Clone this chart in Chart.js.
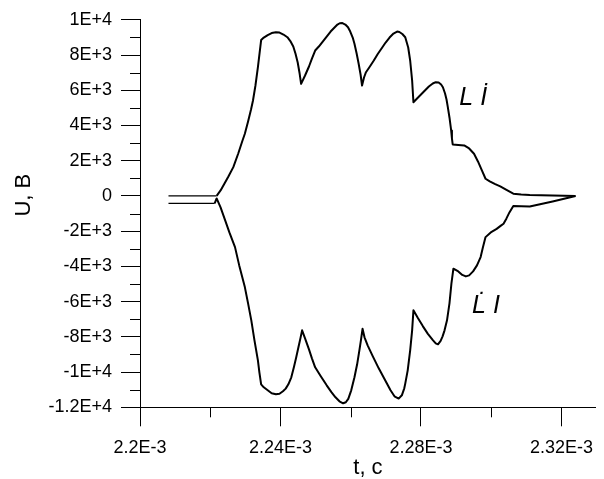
<!DOCTYPE html>
<html>
<head>
<meta charset="utf-8">
<script src="https://cdn.jsdelivr.net/npm/chart.js@4.4.1/dist/chart.umd.min.js"></script>
<style>
html,body{margin:0;padding:0;background:#fff;}
canvas{display:block;}
</style>
</head>
<body>
<canvas id="c" width="604" height="479"></canvas>
<script>
// Upper curve: L·di/dt  (t in seconds, U in volts)
const tUpper = [2.20811e-3, 2.22182e-3, 2.22294e-3, 2.22406e-3, 2.22517e-3, 2.22657e-3, 2.22797e-3, 2.22909e-3, 2.22985e-3, 2.23077e-3,
  2.23161e-3, 2.23217e-3, 2.23287e-3, 2.23357e-3, 2.23413e-3, 2.23449e-3, 2.23524e-3, 2.23636e-3, 2.23748e-3, 2.23869e-3,
  2.23972e-3, 2.24084e-3, 2.24196e-3, 2.24280e-3, 2.24364e-3, 2.24428e-3, 2.24490e-3, 2.24545e-3, 2.24587e-3, 2.24699e-3,
  2.24811e-3, 2.24895e-3, 2.24987e-3, 2.25091e-3, 2.25203e-3, 2.25315e-3, 2.25427e-3, 2.25538e-3, 2.25622e-3, 2.25687e-3,
  2.25762e-3, 2.25846e-3, 2.25922e-3, 2.25986e-3, 2.26056e-3, 2.26106e-3, 2.26168e-3, 2.26224e-3, 2.26280e-3, 2.26322e-3,
  2.26378e-3, 2.26434e-3, 2.26545e-3, 2.26657e-3, 2.26769e-3, 2.26901e-3, 2.26993e-3, 2.27105e-3, 2.27217e-3, 2.27320e-3,
  2.27385e-3, 2.27469e-3, 2.27552e-3, 2.27636e-3, 2.27692e-3, 2.27748e-3, 2.27785e-3, 2.27888e-3, 2.28000e-3, 2.28112e-3,
  2.28224e-3, 2.28336e-3, 2.28420e-3, 2.28503e-3, 2.28573e-3, 2.28624e-3, 2.28685e-3, 2.28727e-3, 2.28764e-3, 2.28811e-3,
  2.28859e-3, 2.28881e-3, 2.28903e-3, 2.29063e-3, 2.29231e-3, 2.29371e-3, 2.29510e-3, 2.29622e-3, 2.29734e-3, 2.29838e-3,
  2.29958e-3, 2.30098e-3, 2.30257e-3, 2.30434e-3, 2.30629e-3, 2.30853e-3, 2.31097e-3, 2.31748e-3, 2.32400e-3];
const uUpper = [0, 0, 312, 709, 1106, 1634, 2411, 3092, 3529, 4227,
  4908, 5418, 6270, 7308, 8255, 8851, 8993, 9135, 9248, 9294,
  9277, 9163, 9010, 8794, 8482, 8068, 7575, 6950, 6366, 6837,
  7348, 7801, 8255, 8482, 8766, 9050, 9333, 9560, 9731, 9804,
  9816, 9731, 9577, 9333, 8993, 8636, 8085, 7518, 6894, 6270,
  6723, 7024, 7348, 7688, 8057, 8443, 8709, 8993, 9220, 9333,
  9305, 9192, 9010, 8426, 7688, 6553, 5322, 5532, 5759, 5986,
  6213, 6383, 6457, 6440, 6326, 6173, 5816, 5475, 5038, 4454,
  3716, 3262, 2922, 2894, 2865, 2695, 2394, 1957, 1447, 976,
  823, 681, 539, 340, 125, 85, 57, 28, 0];
// Lower curve: dL/dt·i
const tLower = [2.20811e-3, 2.22126e-3, 2.22182e-3, 2.22294e-3, 2.22425e-3, 2.22545e-3, 2.22705e-3, 2.22825e-3, 2.22985e-3, 2.23077e-3,
  2.23169e-3, 2.23259e-3, 2.23357e-3, 2.23399e-3, 2.23449e-3, 2.23524e-3, 2.23636e-3, 2.23748e-3, 2.23869e-3, 2.23972e-3,
  2.24070e-3, 2.24148e-3, 2.24224e-3, 2.24308e-3, 2.24383e-3, 2.24448e-3, 2.24517e-3, 2.24573e-3, 2.24615e-3, 2.24699e-3,
  2.24811e-3, 2.24895e-3, 2.24987e-3, 2.25147e-3, 2.25315e-3, 2.25455e-3, 2.25566e-3, 2.25678e-3, 2.25782e-3, 2.25860e-3,
  2.25930e-3, 2.26014e-3, 2.26106e-3, 2.26182e-3, 2.26246e-3, 2.26294e-3, 2.26336e-3, 2.26392e-3, 2.26481e-3, 2.26629e-3,
  2.26797e-3, 2.26965e-3, 2.27133e-3, 2.27245e-3, 2.27365e-3, 2.27455e-3, 2.27524e-3, 2.27552e-3, 2.27622e-3, 2.27692e-3,
  2.27748e-3, 2.27785e-3, 2.27916e-3, 2.28056e-3, 2.28196e-3, 2.28344e-3, 2.28420e-3, 2.28484e-3, 2.28559e-3, 2.28615e-3,
  2.28671e-3, 2.28741e-3, 2.28811e-3, 2.28867e-3, 2.28923e-3, 2.29063e-3, 2.29175e-3, 2.29278e-3, 2.29371e-3, 2.29483e-3,
  2.29594e-3, 2.29698e-3, 2.29762e-3, 2.29838e-3, 2.29986e-3, 2.30154e-3, 2.30266e-3, 2.30350e-3, 2.30434e-3, 2.30518e-3,
  2.30629e-3, 2.30853e-3, 2.31097e-3, 2.31748e-3, 2.32400e-3];
const uLower = [-426, -426, -142, -652, -1390, -2071, -2905, -3943, -5175, -6099,
  -7064, -8199, -9333, -10014, -10695, -10865, -11036, -11206, -11262, -11234,
  -11092, -10939, -10695, -10298, -9714, -9163, -8539, -8028, -7631, -8085,
  -8709, -9220, -9731, -10241, -10752, -11149, -11433, -11660, -11773, -11716,
  -11518, -11036, -10298, -9560, -8766, -8142, -7546, -8028, -8482, -9106,
  -9787, -10411, -11036, -11376, -11506, -11319, -10922, -10655, -9901, -8766,
  -7631, -6497, -6950, -7404, -7830, -8199, -8369, -8426, -8227, -7972,
  -7631, -7064, -6099, -4965, -4131, -4284, -4482, -4567, -4511, -4284,
  -3943, -3472, -2922, -2338, -2071, -1872, -1702, -1577, -1277, -936,
  -567, -584, -596, -312, 0];

const xTickValues = [2.2e-3, 2.24e-3, 2.28e-3, 2.32e-3];
const xTickLabels = ["2.2E-3", "2.24E-3", "2.28E-3", "2.32E-3"];
const xMinorTicks = [2.22e-3, 2.26e-3, 2.30e-3];
const yTickValues = [-12000, -10000, -8000, -6000, -4000, -2000, 0, 2000, 4000, 6000, 8000, 10000];
const yTickLabels = ["-1.2E+4", "-1E+4", "-8E+3", "-6E+3", "-4E+3", "-2E+3", "0", "2E+3", "4E+3", "6E+3", "8E+3", "1E+4"];
const yMinorTicks = [-11000, -9000, -7000, -5000, -3000, -1000, 1000, 3000, 5000, 7000, 9000];
const curveLabels = ["L İ", "L\u0307 I"];
const xTitle = "t, c";
const yTitle = "U, B";

const FONT = "'Liberation Sans', Arial, sans-serif";
const pts = (ts, us) => ts.map((t, i) => ({x: t, y: us[i]}));

const extras = {
  id: 'extras',
  afterDraw(chart) {
    const ctx = chart.ctx;
    const xs = chart.scales.x, ys = chart.scales.y;
    const ca = chart.chartArea;
    ctx.save();
    ctx.strokeStyle = '#000';
    ctx.lineWidth = 1;
    ctx.beginPath();
    yMinorTicks.forEach(v => {
      const py = Math.round(ys.getPixelForValue(v)) + 0.5;
      ctx.moveTo(ca.left - 10, py); ctx.lineTo(ca.left, py);
    });
    xMinorTicks.forEach(v => {
      const px = Math.round(xs.getPixelForValue(v)) + 0.5;
      ctx.moveTo(px, ca.bottom); ctx.lineTo(px, ca.bottom + 10);
    });
    ctx.stroke();
    ctx.fillStyle = '#000';
    ctx.font = "italic 25px " + FONT;
    ctx.textBaseline = 'alphabetic';
    ctx.textAlign = 'left';
    ctx.fillText(curveLabels[0], xs.getPixelForValue(2.29091e-3), ys.getPixelForValue(5135));
    ctx.fillText(curveLabels[1], xs.getPixelForValue(2.29455e-3), ys.getPixelForValue(-6667));
    ctx.restore();
  }
};

new Chart(document.getElementById('c'), {
  type: 'line',
  data: {
    datasets: [
      {data: pts(tUpper, uUpper), borderColor: '#000', borderWidth: 2, pointRadius: 0, tension: 0, fill: false,
       borderJoinStyle: 'round', segment: {borderWidth: c => c.p0DataIndex === 0 ? 1.3 : 2}},
      {data: pts(tLower, uLower), borderColor: '#000', borderWidth: 2, pointRadius: 0, tension: 0, fill: false,
       borderJoinStyle: 'round', segment: {borderWidth: c => c.p0DataIndex === 0 ? 1.3 : 2}}
    ]
  },
  options: {
    responsive: false,
    animation: false,
    events: [],
    layout: {padding: {top: 19.5, right: 0, bottom: 0, left: 0}},
    plugins: {legend: {display: false}, tooltip: {enabled: false}},
    scales: {
      x: {
        type: 'linear',
        min: 2.2e-3,
        max: 2.3298e-3,
        afterBuildTicks: s => { s.ticks = xTickValues.map(v => ({value: v})); },
        afterFit: s => { s.height = 71.7; },
        ticks: {
          color: '#000', padding: 11, maxRotation: 0, autoSkip: false,
          font: {family: FONT, size: 18},
          callback: (v) => { const i = xTickValues.findIndex(t => Math.abs(t - v) < 1e-9); return i >= 0 ? xTickLabels[i] : ''; }
        },
        grid: {display: true, drawOnChartArea: false, drawTicks: true, tickLength: 19, color: '#000', lineWidth: 1},
        border: {display: true, color: '#000', width: 1},
        title: {display: true, text: xTitle, color: '#000', font: {family: FONT, size: 22, lineHeight: 1}, padding: {top: 0, bottom: 0}}
      },
      y: {
        type: 'linear',
        min: -12000,
        max: 10000,
        afterBuildTicks: s => { s.ticks = yTickValues.map(v => ({value: v})); },
        afterFit: s => { s.width = 140; },
        ticks: {
          color: '#000', padding: 9, autoSkip: false,
          font: {family: FONT, size: 18},
          callback: (v) => { const i = yTickValues.indexOf(v); return i >= 0 ? yTickLabels[i] : ''; }
        },
        grid: {display: true, drawOnChartArea: false, drawTicks: true, tickLength: 19, color: '#000', lineWidth: 1},
        border: {display: true, color: '#000', width: 1},
        title: {display: true, text: '      ' + yTitle, color: '#000', font: {family: FONT, size: 22, lineHeight: 1}, padding: {top: 13, bottom: 0}}
      }
    }
  },
  plugins: [extras]
});
</script>
</body>
</html>
